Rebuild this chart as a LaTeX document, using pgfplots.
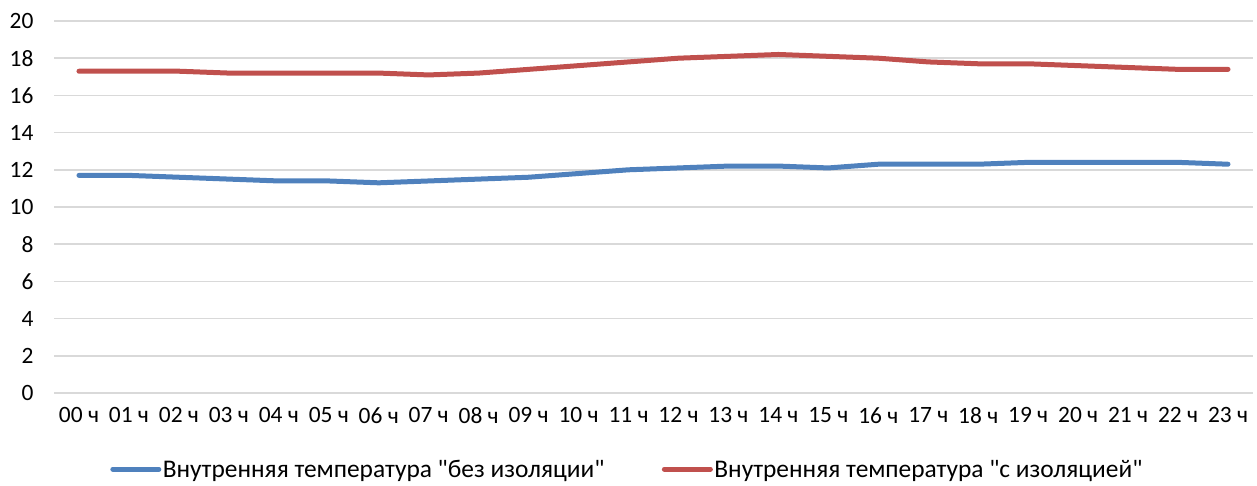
\documentclass[border=0pt]{standalone}
\usepackage{pgfplots}
\pgfplotsset{compat=1.18}
\usepackage{fontspec}
\setmainfont{Carlito}
\definecolor{cblue}{HTML}{4F81BD}
\definecolor{cred}{HTML}{C0504D}
\definecolor{cgrid}{HTML}{D9D9D9}
\begin{document}
\begin{tikzpicture}
\path[use as bounding box] (-54bp,-93bp) rectangle (1203bp,393bp);
\begin{axis}[
  at={(0,0)}, anchor=south west,
  scale only axis, width=1199bp, height=372bp,
  xmin=-0.5, xmax=23.5, ymin=0, ymax=20,
  ytick={0,2,...,20},
  xtick={0,...,23},
  xticklabels={00 ч,01 ч,02 ч,03 ч,04 ч,05 ч,06 ч,07 ч,08 ч,09 ч,10 ч,11 ч,12 ч,13 ч,14 ч,15 ч,16 ч,17 ч,18 ч,19 ч,20 ч,21 ч,22 ч,23 ч},
  axis line style={draw=none},
  major tick length=0pt,
  ymajorgrids, grid style={cgrid, line width=1.5bp},
  tick label style={font=\fontsize{23.5}{26}\selectfont, text=black},
  /pgf/number format/assume math mode=true,
  yticklabel style={xshift=-17bp},
  xticklabel style={yshift=-11bp},
  legend style={at={(0.478,-0.175)}, anchor=north, draw=none, font=\fontsize{25.5}{28}\selectfont,
    legend columns=2, /tikz/every even column/.append style={column sep=56bp}, inner sep=0pt,
    nodes={inner sep=1.5bp}},
  legend image code/.code={\draw[#1, line width=5bp, line cap=round] (0bp,0bp) -- (46bp,0bp);},
]
\addplot[cblue, line width=5bp, line cap=round, line join=round] coordinates {
(0,11.7)(1,11.7)(2,11.6)(3,11.5)(4,11.4)(5,11.4)(6,11.3)(7,11.4)(8,11.5)(9,11.6)(10,11.8)(11,12.0)
(12,12.1)(13,12.2)(14,12.2)(15,12.1)(16,12.3)(17,12.3)(18,12.3)(19,12.4)(20,12.4)(21,12.4)(22,12.4)(23,12.3)};
\addlegendentry{Внутренняя температура \textquotedbl без изоляции\textquotedbl}
\addplot[cred, line width=5bp, line cap=round, line join=round] coordinates {
(0,17.3)(1,17.3)(2,17.3)(3,17.2)(4,17.2)(5,17.2)(6,17.2)(7,17.1)(8,17.2)(9,17.4)(10,17.6)(11,17.8)
(12,18.0)(13,18.1)(14,18.2)(15,18.1)(16,18.0)(17,17.8)(18,17.7)(19,17.7)(20,17.6)(21,17.5)(22,17.4)(23,17.4)};
\addlegendentry{Внутренняя температура \textquotedbl с изоляцией\textquotedbl}
\end{axis}
\end{tikzpicture}
\end{document}
